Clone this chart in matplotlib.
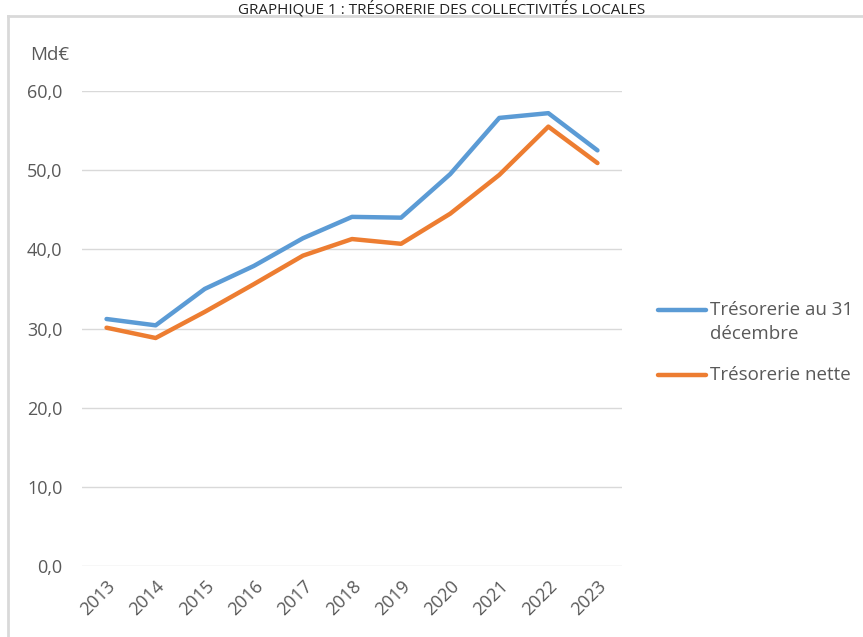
import matplotlib
matplotlib.use("Agg")
import matplotlib.pyplot as plt
from matplotlib.lines import Line2D

years = ["2013", "2014", "2015", "2016", "2017", "2018", "2019", "2020", "2021", "2022", "2023"]
tresorerie_31dec = [31.2, 30.4, 35.0, 37.9, 41.4, 44.1, 44.0, 49.5, 56.6, 57.2, 52.5]
tresorerie_nette = [30.1, 28.8, 32.1, 35.6, 39.2, 41.3, 40.7, 44.5, 49.4, 55.5, 50.9]
yticks = [0, 10, 20, 30, 40, 50, 60]
ytick_labels = ["0,0", "10,0", "20,0", "30,0", "40,0", "50,0", "60,0"]

plt.rcParams['font.family'] = ['Open Sans', 'DejaVu Sans']
W, H = 863, 637
fig = plt.figure(figsize=(W / 100, H / 100), dpi=100)

# axes placement in pixels
left, right, top, bottom = 82, 622, 91, 566
ax = fig.add_axes([left / W, 1 - bottom / H, (right - left) / W, (bottom - top) / H])

x = list(range(len(years)))
blue = "#5b9bd5"
orange = "#ed7d31"
ax.plot(x, tresorerie_31dec, color=blue, lw=3.2, solid_capstyle="round", solid_joinstyle="round")
ax.plot(x, tresorerie_nette, color=orange, lw=3.2, solid_capstyle="round", solid_joinstyle="round")

ax.set_xlim(-0.5, len(years) - 0.5)
ax.set_ylim(0, 60)
ax.set_yticks(yticks)
ax.set_yticklabels(ytick_labels)
ax.set_xticks(x)
ax.set_xticklabels(years, rotation=45, ha="right", rotation_mode="anchor")
ax.grid(axis="y", color="#d9d9d9", lw=1)
ax.set_axisbelow(True)
for s in ax.spines.values():
    s.set_visible(False)
ax.tick_params(axis="both", length=0, labelsize=13, labelcolor="#595959")
ax.tick_params(axis="y", pad=14)
ax.tick_params(axis="x", pad=8)

# unit label
fig.text(30 / W, 1 - 55 / H, "Md€", fontsize=13.5, color="#595959", va="center", ha="left")

# legend (manual)
legend_items = [(blue, ["Trésorerie au 31", "décembre"], 310), (orange, ["Trésorerie nette"], 375)]
for color, lines, ypix in legend_items:
    fig.add_artist(Line2D([658 / W, 706 / W], [1 - ypix / H, 1 - ypix / H], color=color, lw=3.2,
                          solid_capstyle="round"))
    for i, t in enumerate(lines):
        fig.text(710 / W, 1 - (ypix + i * 24) / H, t, fontsize=13.5, color="#595959", va="center", ha="left")

# frame
fig.add_artist(Line2D([8 / W, 8 / W], [0, 1 - 16 / H], color="#d9d9d9", lw=2))
fig.add_artist(Line2D([8 / W, 1], [1 - 16 / H, 1 - 16 / H], color="#d9d9d9", lw=2))

# title
fig.text(442 / W, 1 - 1 / H, "GRAPHIQUE 1 : TRÉSORERIE DES COLLECTIVITÉS LOCALES", fontsize=11,
         color="#222222", ha="center", va="top")

fig.savefig("out.png", dpi=100)
